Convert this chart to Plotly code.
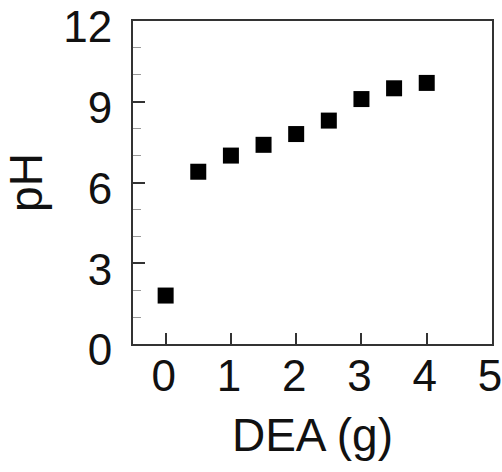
import plotly.graph_objects as go

dea_g = [0, 0.5, 1.0, 1.5, 2.0, 2.5, 3.0, 3.5, 4.0]
ph = [1.8, 6.4, 7.0, 7.4, 7.8, 8.3, 9.1, 9.5, 9.7]

x_ticks = [0, 1, 2, 3, 4, 5]
y_ticks = [0, 3, 6, 9, 12]

font_family = "Liberation Sans, Arial, sans-serif"

fig = go.Figure(
    go.Scatter(
        x=dea_g, y=ph, mode="markers",
        marker=dict(symbol="square", size=16, color="black", line=dict(width=0)),
    )
)

fig.update_layout(
    width=502, height=472,
    margin=dict(l=133, r=10, t=21, b=128),
    paper_bgcolor="white", plot_bgcolor="white",
    showlegend=False,
    font=dict(family=font_family, color="#111111"),
)

fig.update_xaxes(
    automargin=False,
    range=[-0.5, 5], tickvals=x_ticks, ticktext=[str(v) for v in x_ticks],
    ticks="inside", ticklen=11, tickwidth=2, tickcolor="#333333",
    showline=True, linewidth=2, linecolor="#333333", mirror=True,
    showgrid=False, zeroline=False,
    tickfont=dict(size=44, family=font_family, color="#111111"),
    ticklabelstandoff=-8, ticklabeloverflow="allow", ticklabelshift=-2,
    title=dict(text="DEA (g)", font=dict(size=46, family=font_family, color="#111111"), standoff=20),
)
fig.update_yaxes(
    automargin=False,
    range=[0, 12], tickvals=y_ticks, ticktext=[str(v) for v in y_ticks],
    ticks="inside", ticklen=12, tickwidth=2, tickcolor="#333333",
    minor=dict(dtick=1, ticks="inside", ticklen=8, tickwidth=1, tickcolor="#999999", showgrid=False),
    showline=True, linewidth=2, linecolor="#333333", mirror=True,
    showgrid=False, zeroline=False,
    tickfont=dict(size=44, family=font_family, color="#111111"),
    ticklabelstandoff=10, ticklabeloverflow="allow", ticklabelshift=6,
    title=dict(text="pH", font=dict(size=46, family=font_family, color="#111111"), standoff=24),
)

fig.write_html("out.html")
